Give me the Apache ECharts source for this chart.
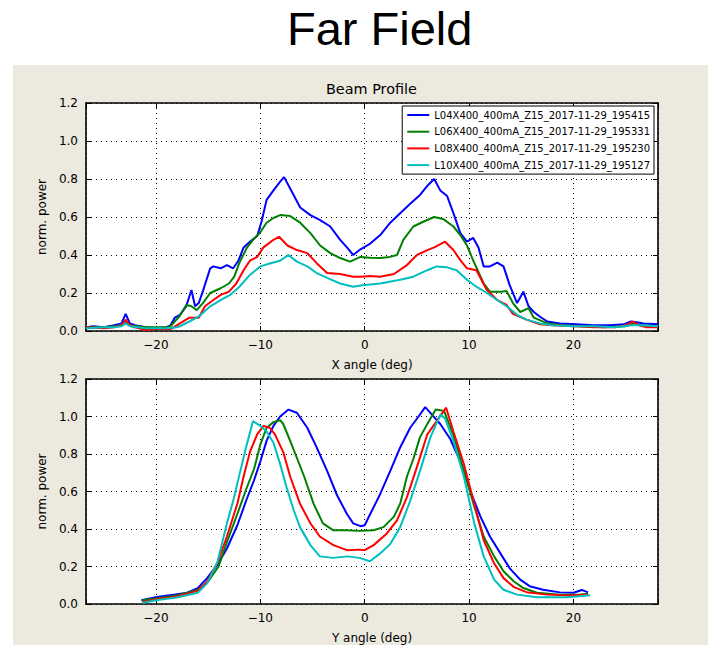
<!DOCTYPE html>
<html>
<head>
<meta charset="utf-8">
<title>Far Field</title>
<script src="https://cdn.jsdelivr.net/npm/echarts@6/dist/echarts.min.js"></script>
<style>
  html, body { margin: 0; padding: 0; background: #ffffff; }
  #panel { position: absolute; left: 13px; top: 65px; width: 695px; height: 580px; background: #ece9df; }
  #chart { position: absolute; left: 0; top: 0; width: 708px; height: 645px; }
</style>
</head>
<body>
<div id="panel"></div>
<div id="chart"></div>
<script>
// Measurement names (one per run)
const seriesNames = [
  'L04X400_400mA_Z15_2017-11-29_195415',
  'L06X400_400mA_Z15_2017-11-29_195331',
  'L08X400_400mA_Z15_2017-11-29_195230',
  'L10X400_400mA_Z15_2017-11-29_195127'
];
const seriesColors = ['#0000ff', '#008000', '#ff0000', '#00bfbf'];

// Horizontal (X angle) profiles: [deg, normalised power]
const xBlue = [[-26.7,0.02],[-26,0.025],[-25,0.02],[-24,0.03],[-23.3,0.04],[-22.9,0.09],[-22.5,0.04],[-22,0.03],[-21,0.02],[-20,0.015],[-19,0.02],[-18.6,0.03],[-18.2,0.07],[-17.7,0.085],[-17.1,0.13],[-16.6,0.216],[-16.25,0.13],[-15.9,0.147],[-15.5,0.21],[-14.8,0.33],[-14.5,0.34],[-13.8,0.33],[-13.2,0.347],[-12.6,0.33],[-12.1,0.37],[-11.6,0.44],[-11.0,0.47],[-10.3,0.50],[-9.86,0.58],[-9.4,0.69],[-8.74,0.74],[-8.1,0.786],[-7.72,0.81],[-7.14,0.75],[-6.18,0.65],[-5.2,0.61],[-4.27,0.584],[-3.3,0.55],[-2.35,0.48],[-1.7,0.44],[-1.1,0.40],[-0.4,0.43],[0.53,0.46],[1.49,0.505],[2.45,0.57],[3.4,0.62],[4.36,0.67],[5.3,0.716],[6.1,0.77],[6.66,0.80],[7.24,0.74],[7.9,0.71],[8.5,0.62],[9.16,0.515],[9.8,0.47],[10.4,0.49],[10.9,0.44],[11.4,0.34],[12.0,0.34],[12.7,0.36],[13.3,0.34],[13.9,0.24],[14.6,0.147],[15.2,0.207],[15.7,0.13],[16.2,0.10],[16.8,0.075],[17.5,0.05],[18.7,0.04],[20.3,0.035],[21.9,0.03],[23.5,0.03],[24.8,0.035],[25.5,0.05],[26.2,0.045],[26.7,0.04],[28.1,0.035]];
const xGreen = [[-26.7,0.02],[-25,0.02],[-24,0.025],[-23.3,0.03],[-22.9,0.05],[-22.5,0.03],[-21,0.02],[-20,0.02],[-19,0.02],[-18.6,0.025],[-18.2,0.05],[-17.7,0.08],[-17.1,0.137],[-16.6,0.13],[-16.1,0.11],[-15.5,0.147],[-14.8,0.2],[-13.8,0.225],[-13.0,0.25],[-12.5,0.286],[-12.0,0.36],[-11.3,0.437],[-10.7,0.48],[-10.0,0.52],[-9.4,0.57],[-8.74,0.595],[-8.1,0.61],[-7.14,0.605],[-6.18,0.57],[-5.2,0.515],[-4.27,0.45],[-3.3,0.41],[-2.35,0.384],[-1.4,0.365],[-0.4,0.39],[0.5,0.385],[1.49,0.384],[2.4,0.39],[3.1,0.40],[3.7,0.48],[4.66,0.55],[5.6,0.575],[6.66,0.60],[7.5,0.59],[8.5,0.55],[9.16,0.505],[9.8,0.45],[10.4,0.37],[11.4,0.25],[12.0,0.207],[13.0,0.207],[13.6,0.21],[14.2,0.147],[14.9,0.10],[15.7,0.12],[16.2,0.07],[17.5,0.04],[19,0.03],[21,0.025],[23,0.02],[25,0.025],[25.8,0.04],[26.5,0.03],[28.1,0.025]];
const xRed = [[-26.7,0.02],[-25,0.015],[-24,0.02],[-23.3,0.03],[-22.9,0.06],[-22.5,0.03],[-22,0.02],[-21,0.005],[-20,0.01],[-19,0.01],[-18.6,0.01],[-17.7,0.04],[-16.8,0.07],[-15.9,0.07],[-15.3,0.13],[-14.5,0.163],[-13.8,0.19],[-13.0,0.207],[-12.3,0.25],[-11.6,0.32],[-11.0,0.37],[-10.3,0.39],[-9.7,0.44],[-8.74,0.48],[-8.2,0.496],[-7.4,0.45],[-6.5,0.426],[-5.5,0.41],[-4.6,0.357],[-3.6,0.305],[-2.35,0.30],[-1.1,0.286],[-0.4,0.286],[0.5,0.29],[1.49,0.285],[2.8,0.30],[4.05,0.347],[5.0,0.40],[6.0,0.426],[6.66,0.44],[7.7,0.47],[8.5,0.426],[9.16,0.373],[9.8,0.33],[10.7,0.32],[11.7,0.216],[12.7,0.163],[13.6,0.137],[14.2,0.09],[15.5,0.06],[16.8,0.035],[18,0.03],[20,0.025],[22,0.02],[24,0.02],[25,0.03],[25.7,0.05],[26.3,0.03],[27,0.02],[28.1,0.02]];
const xCyan = [[-26.7,0.015],[-25,0.02],[-24,0.02],[-23.3,0.025],[-22.9,0.04],[-22.5,0.025],[-21,0.015],[-20,0.015],[-19,0.015],[-18,0.02],[-17.7,0.025],[-16.8,0.05],[-15.8,0.08],[-14.8,0.13],[-13.8,0.163],[-12.9,0.19],[-12.0,0.233],[-11.0,0.295],[-10.0,0.34],[-9.1,0.355],[-8.1,0.37],[-7.3,0.40],[-6.5,0.365],[-5.5,0.34],[-4.6,0.305],[-3.6,0.28],[-2.35,0.25],[-1.1,0.233],[-0.4,0.24],[0.5,0.245],[1.49,0.25],[3.4,0.27],[4.66,0.286],[6.0,0.32],[6.9,0.34],[7.9,0.335],[8.8,0.32],[9.8,0.27],[10.7,0.233],[11.7,0.2],[12.7,0.163],[13.6,0.13],[14.6,0.085],[15.5,0.06],[16.8,0.04],[18,0.03],[20,0.025],[22,0.025],[24,0.02],[25.5,0.03],[26.5,0.03],[28.1,0.025]];

// Vertical (Y angle) profiles: [deg, normalised power]
const yBlue = [[-21.4,0.02],[-19.9,0.037],[-18.3,0.05],[-17.0,0.06],[-16.0,0.085],[-15.1,0.138],[-14.1,0.21],[-13.2,0.296],[-12.2,0.42],[-11.3,0.56],[-10.6,0.66],[-10.0,0.76],[-9.4,0.87],[-8.74,0.95],[-8.1,1.0],[-7.3,1.037],[-6.5,1.02],[-5.5,0.94],[-4.6,0.835],[-3.6,0.71],[-2.65,0.58],[-1.7,0.48],[-1.1,0.43],[-0.4,0.415],[0.0,0.42],[0.53,0.48],[1.49,0.587],[2.45,0.71],[3.4,0.835],[4.36,0.94],[5.16,1.0],[5.8,1.05],[6.44,1.01],[7.24,0.96],[8.2,0.88],[9.16,0.76],[10.1,0.605],[11.1,0.465],[12.0,0.36],[13.0,0.27],[13.9,0.19],[14.9,0.13],[15.8,0.095],[17.1,0.076],[18.7,0.062],[20.0,0.06],[20.8,0.075],[21.4,0.062]];
const yGreen = [[-21.3,0.02],[-20,0.03],[-18,0.045],[-16,0.075],[-15,0.12],[-14,0.2],[-13.2,0.33],[-12.2,0.48],[-11.3,0.62],[-10.6,0.72],[-10.0,0.85],[-9.4,0.94],[-8.74,0.97],[-8.1,0.98],[-7.8,0.96],[-7.14,0.87],[-6.5,0.78],[-5.8,0.68],[-4.9,0.535],[-4.0,0.43],[-3.0,0.393],[-1.7,0.393],[-0.5,0.39],[0.85,0.393],[1.8,0.41],[2.8,0.466],[3.4,0.535],[4.05,0.68],[4.7,0.78],[5.3,0.89],[6.0,0.96],[6.8,1.037],[7.6,1.03],[8.5,0.90],[9.5,0.71],[10.5,0.52],[11.4,0.36],[12.4,0.254],[13.3,0.175],[14.3,0.12],[15.2,0.085],[16.5,0.06],[18.7,0.05],[20.5,0.05],[21.4,0.055]];
const yRed = [[-21.3,0.01],[-20,0.025],[-18,0.04],[-16,0.07],[-15.1,0.12],[-14.1,0.22],[-13.2,0.36],[-12.2,0.535],[-11.6,0.68],[-11.0,0.81],[-10.3,0.905],[-9.7,0.95],[-9.1,0.94],[-8.6,0.905],[-7.8,0.81],[-7.14,0.68],[-6.2,0.535],[-5.2,0.43],[-4.3,0.36],[-3.0,0.314],[-1.7,0.287],[-0.5,0.29],[0.0,0.287],[0.85,0.314],[2.1,0.375],[3.1,0.446],[4.05,0.57],[5.0,0.73],[6.0,0.905],[6.9,0.975],[7.8,1.047],[8.5,0.92],[9.5,0.746],[10.5,0.535],[11.4,0.34],[12.4,0.217],[13.3,0.138],[14.3,0.09],[15.5,0.063],[17.5,0.05],[19.4,0.046],[21.4,0.05]];
const yCyan = [[-21.3,0.005],[-20,0.02],[-18,0.035],[-16,0.06],[-15.1,0.11],[-14.1,0.225],[-13.2,0.43],[-12.6,0.55],[-12.0,0.69],[-11.3,0.85],[-10.7,0.975],[-10.0,0.95],[-9.4,0.92],[-8.74,0.86],[-8.1,0.746],[-7.5,0.625],[-6.8,0.5],[-6.2,0.41],[-5.2,0.314],[-4.3,0.254],[-3.0,0.246],[-1.7,0.254],[-0.5,0.246],[0.5,0.228],[1.49,0.27],[2.45,0.32],[3.4,0.41],[4.36,0.55],[5.3,0.71],[6.3,0.89],[7.24,1.01],[7.7,0.99],[8.5,0.87],[9.5,0.68],[10.5,0.43],[11.4,0.254],[12.4,0.13],[13.3,0.076],[14.6,0.05],[16.5,0.036],[19.4,0.036],[21.6,0.047]];

// Axis extents and labels
const angleMin = -26.7;
const angleMax = 28.1;
const powerMin = 0;
const powerMax = 1.2;
const xAxisTitles = ['X angle (deg)', 'Y angle (deg)'];
const yAxisTitle = 'norm. power';

const FONT = 'DejaVu Sans';
const INK = '#000000';

function angleLabel(v) {
  if (Math.abs(v / 10 - Math.round(v / 10)) > 1e-6) return '';
  const n = Math.round(v);
  return n < 0 ? '\u2212' + (-n) : String(n);
}

const frameLine = { show: true, onZero: false, lineStyle: { color: INK, width: 1.6 } };
const innerTick = { show: true, inside: true, length: 5, lineStyle: { color: INK, width: 1 } };
const dotted = { show: true, lineStyle: { color: INK, width: 1, type: [1, 4] } };

function bottomX(gridIndex, title) {
  return {
    type: 'value', gridIndex, min: angleMin, max: angleMax, splitNumber: 5,
    position: 'bottom',
    axisLine: frameLine, axisTick: innerTick, splitLine: dotted,
    axisLabel: { formatter: angleLabel, color: INK, fontFamily: FONT, fontSize: 12, margin: 8 },
    name: title, nameLocation: 'middle', nameGap: 28,
    nameTextStyle: { color: INK, fontFamily: FONT, fontSize: 12 }
  };
}
function topX(gridIndex) {
  return {
    type: 'value', gridIndex, min: angleMin, max: angleMax, splitNumber: 5,
    position: 'top',
    axisLine: frameLine, axisTick: innerTick, splitLine: { show: false },
    axisLabel: { show: false }
  };
}
function leftY(gridIndex) {
  return {
    type: 'value', gridIndex, min: powerMin, max: powerMax, interval: 0.2,
    position: 'left',
    axisLine: frameLine, axisTick: innerTick, splitLine: dotted,
    axisLabel: { formatter: v => v.toFixed(1), color: INK, fontFamily: FONT, fontSize: 12, margin: 8 },
    name: yAxisTitle, nameLocation: 'middle', nameGap: 37,
    nameTextStyle: { color: INK, fontFamily: FONT, fontSize: 12 }
  };
}
function rightY(gridIndex) {
  return {
    type: 'value', gridIndex, min: powerMin, max: powerMax, interval: 0.2,
    position: 'right',
    axisLine: frameLine, axisTick: innerTick, splitLine: { show: false },
    axisLabel: { show: false }
  };
}

function profile(name, color, data, axisIndex) {
  return {
    type: 'line', name, data, xAxisIndex: axisIndex, yAxisIndex: axisIndex,
    showSymbol: false, symbol: 'none', smooth: false,
    lineStyle: { color, width: 2 }, itemStyle: { color },
    emphasis: { disabled: true }
  };
}

const xSets = [xBlue, xGreen, xRed, xCyan];
const ySets = [yBlue, yGreen, yRed, yCyan];
const series = [];
xSets.forEach((d, i) => series.push(profile(seriesNames[i], seriesColors[i], d, 0)));
ySets.forEach((d, i) => series.push(profile(seriesNames[i], seriesColors[i], d, 2)));

const chart = echarts.init(document.getElementById('chart'), null, { renderer: 'svg' });
chart.setOption({
  animation: false,
  backgroundColor: 'transparent',
  title: [
    { text: 'Far Field', left: 287, top: 5, padding: 0,
      textStyle: { fontFamily: 'Liberation Sans', fontSize: 47, fontWeight: 'normal', color: INK } },
    { text: 'Beam Profile', left: 326, top: 82, padding: 0,
      textStyle: { fontFamily: FONT, fontSize: 14.4, fontWeight: 'normal', color: INK } }
  ],
  legend: {
    data: seriesNames, orient: 'vertical', right: 54, top: 106,
    icon: 'rect', itemWidth: 22, itemHeight: 2, itemGap: 4.7, itemTextGap: 7,
    padding: [3, 4, 3, 5], backgroundColor: '#ffffff', borderColor: INK, borderWidth: 1,
    textStyle: { fontFamily: FONT, fontSize: 10, color: INK, lineHeight: 12 },
    selectedMode: false
  },
  grid: [
    { left: 86, right: 50, top: 103, height: 228, show: true, backgroundColor: '#ffffff', borderWidth: 0 },
    { left: 86, right: 50, top: 379, height: 227, show: true, backgroundColor: '#ffffff', borderWidth: 0 }
  ],
  xAxis: [bottomX(0, xAxisTitles[0]), topX(0), bottomX(1, xAxisTitles[1]), topX(1)],
  yAxis: [leftY(0), rightY(0), leftY(1), rightY(1)],
  series
});
</script>
</body>
</html>
